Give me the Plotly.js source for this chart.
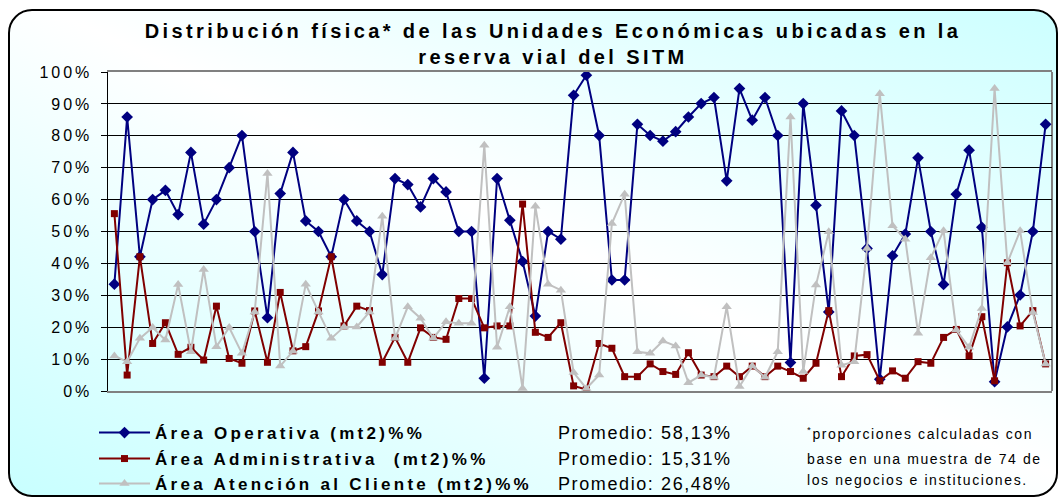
<!DOCTYPE html>
<html>
<head>
<meta charset="utf-8">
<script src="https://cdn.plot.ly/plotly-3.0.1.min.js"></script>
<style>
  html, body { margin: 0; padding: 0; background: #ffffff; }
  #wrap { position: relative; width: 1060px; height: 498px; overflow: hidden; }
  #frame {
    position: absolute; left: 8px; top: 9px; width: 1050px; height: 488px;
    box-sizing: border-box; border: 2px solid #000; border-radius: 24px;
    background: linear-gradient(to top right, #c8ffff 0%, #ffffff 52%, #ccffff 100%);
  }
  #chart { position: absolute; left: 0; top: 0; width: 1060px; height: 498px; }
  .gtitle { letter-spacing: 3.4px; }
  .legendtext, g[class^="legend"] text { letter-spacing: 3.3px; }
  .ytick text { letter-spacing: 3px; }
  .annotation-text { letter-spacing: 1.6px; }
</style>
</head>
<body>
<div id="wrap">
  <div id="frame"></div>
  <div id="chart"></div>
</div>
<script>
// ---- data (percent of each business's area) ----
const serieNombres = [
  "Área Operativa (mt2)%%",
  "Área Administrativa  (mt2)%%",
  "Área Atención al Cliente (mt2)%%"
];
const areaOperativa = [
  33.5, 85.9, 42.1, 60.0, 62.9, 55.3, 74.8, 52.3, 60.0, 70.0, 80.1, 50.0, 23.0, 61.9, 74.8, 53.3, 50.0, 42.1,
  60.0, 53.3, 50.0, 36.5, 66.6, 64.7, 57.7, 66.6, 62.4, 50.0, 50.0, 4.0, 66.6, 53.5, 40.6, 23.5, 50.0, 47.6,
  92.7, 99.0, 80.1, 34.8, 34.8, 83.6, 80.1, 78.3, 81.3, 85.9, 90.1, 92.0, 65.9, 94.8, 84.9, 92.0, 80.1, 8.9,
  90.1, 58.2, 24.8, 87.8, 80.1, 44.7, 3.7, 42.4, 49.2, 73.1, 50.0, 33.4, 61.7, 75.5, 51.3, 2.9, 20.1, 30.1, 50.0, 83.6
];
const areaAdministrativa = [
  55.6, 5.0, 42.1, 14.9, 21.4, 11.5, 13.7, 9.7, 26.6, 10.2, 8.7, 25.1, 9.0, 30.9, 12.6, 13.9, 25.1, 42.1,
  20.4, 26.6, 25.2, 9.0, 16.8, 9.0, 19.8, 16.8, 16.2, 29.0, 29.0, 19.8, 20.4, 20.4, 58.6, 18.4, 16.8, 21.4,
  1.6, 0.5, 14.9, 13.4, 4.5, 4.5, 8.5, 6.1, 5.2, 12.0, 5.0, 4.5, 7.8, 4.5, 7.8, 4.5, 7.8, 6.1,
  4.0, 8.7, 25.2, 4.5, 11.0, 11.4, 3.2, 6.3, 4.0, 9.2, 8.7, 16.8, 19.3, 11.0, 23.3, 3.2, 40.2, 20.4, 25.2, 8.5
];
const areaAtencion = [
  11.0, 9.2, 16.5, 19.9, 16.0, 33.4, 12.3, 38.1, 13.9, 19.9, 11.8, 24.8, 68.2, 7.8, 12.5, 33.5, 24.8, 16.5,
  20.1, 20.1, 24.8, 54.8, 16.5, 26.4, 22.8, 16.5, 21.7, 21.2, 21.2, 77.0, 13.7, 26.4, 0.8, 57.9, 33.5, 31.6,
  5.8, 0.8, 5.0, 52.5, 61.7, 12.3, 11.8, 15.7, 14.1, 2.6, 5.0, 4.3, 26.4, 1.4, 7.8, 4.3, 12.3, 85.9,
  6.1, 33.2, 49.9, 8.1, 9.2, 44.7, 93.2, 51.8, 47.6, 18.1, 41.8, 50.2, 19.1, 13.7, 25.9, 94.8, 40.2, 50.2, 24.6, 8.5
];
const promedios = ["Promedio: 58,13%", "Promedio: 15,31%", "Promedio: 26,48%"];
const notaLineas = [
  "<sup>*</sup>proporciones calculadas con",
  "base en una muestra de 74 de",
  "los negocios e instituciones."
];
const tituloTexto = "Distribución física* de las Unidades Económicas ubicadas en la<br>reserva vial del SITM";
const yTickVals = [0, 10, 20, 30, 40, 50, 60, 70, 80, 90, 100];
const yTickText = ["0%", "10%", "20%", "30%", "40%", "50%", "60%", "70%", "80%", "90%", "100%"];

// ---- layout helpers ----
const W = 1060, H = 498;
const L = 108, R = 1052, T = 72, B = 391;
const px2x = p => (p - L) / (R - L);
const px2y = p => (B - p) / (B - T);
const FONT = "Liberation Sans, Arial, sans-serif";

const casos = areaOperativa.map((_, i) => i + 1);

const traces = [
  { x: casos, y: areaOperativa, name: serieNombres[0], legend: "legend",
    mode: "lines+markers", line: { color: "#000080", width: 2 },
    marker: { symbol: "diamond", size: 9, color: "#000080" } },
  { x: casos, y: areaAdministrativa, name: serieNombres[1], legend: "legend2",
    mode: "lines+markers", line: { color: "#800000", width: 2 },
    marker: { symbol: "square", size: 7, color: "#800000" } },
  { x: casos, y: areaAtencion, name: serieNombres[2], legend: "legend3",
    mode: "lines+markers", line: { color: "#C0C0C0", width: 2 },
    marker: { symbol: "triangle-up", size: 9, color: "#C0C0C0" } }
];

const legendRowsY = [433, 459, 484];
function mkLegend(rowY) {
  return {
    xref: "container", yref: "container", orientation: "h",
    entrywidth: 460, entrywidthmode: "pixels",
    x: 94 / W, y: 1 - rowY / H, xanchor: "left", yanchor: "middle",
    bgcolor: "rgba(0,0,0,0)", borderwidth: 0, itemwidth: 51,
    font: { family: FONT, size: 17, weight: "bold", color: "#000" }
  };
}

const annotations = [];
promedios.forEach((t, i) => {
  annotations.push({
    text: t, xref: "paper", yref: "paper", x: px2x(556), y: px2y(legendRowsY[i]),
    xanchor: "left", yanchor: "middle", showarrow: false,
    font: { family: FONT, size: 18, color: "#000" }
  });
});
const notaY = [433, 459, 480];
notaLineas.forEach((t, i) => {
  annotations.push({
    text: t, xref: "paper", yref: "paper", x: px2x(805), y: px2y(notaY[i]),
    xanchor: "left", yanchor: "middle", showarrow: false,
    font: { family: FONT, size: 14, color: "#000" }
  });
});

const layout = {
  width: W, height: H,
  paper_bgcolor: "rgba(0,0,0,0)", plot_bgcolor: "rgba(0,0,0,0)",
  margin: { l: L, r: W - R, t: T, b: H - B, pad: 0, autoexpand: false },
  showlegend: true,
  title: {
    text: tituloTexto, xref: "container", yref: "container",
    x: 553 / W, xanchor: "center", y: 1 - 38 / H, yanchor: "top",
    font: { family: FONT, size: 20, weight: "bold", color: "#000" }
  },
  xaxis: {
    type: "linear", range: [0.5, casos.length + 0.5],
    showticklabels: false, ticks: "", showgrid: false, zeroline: false,
    showline: true, linecolor: "#808080", linewidth: 2, mirror: true,
    layer: "below traces", fixedrange: true
  },
  yaxis: {
    range: [0, 100], tickmode: "array", tickvals: yTickVals, ticktext: yTickText,
    showgrid: true, gridcolor: "#000000", gridwidth: 1, zeroline: false,
    showline: true, linecolor: "#000000", linewidth: 1.5,
    ticks: "outside", ticklen: 6, tickcolor: "#000", tickwidth: 1,
    ticklabelstandoff: 5,
    tickfont: { family: FONT, size: 16, color: "#000" },
    layer: "below traces", fixedrange: true
  },
  shapes: [
    { type: "line", xref: "paper", yref: "paper", x0: 1, x1: 1, y0: 0, y1: 1,
      line: { color: "#808080", width: 2 }, layer: "below" }
  ],
  legend: mkLegend(legendRowsY[0]),
  legend2: mkLegend(legendRowsY[1]),
  legend3: mkLegend(legendRowsY[2]),
  annotations: annotations
};

Plotly.newPlot("chart", traces, layout, { displayModeBar: false, staticPlot: true });
</script>
</body>
</html>
